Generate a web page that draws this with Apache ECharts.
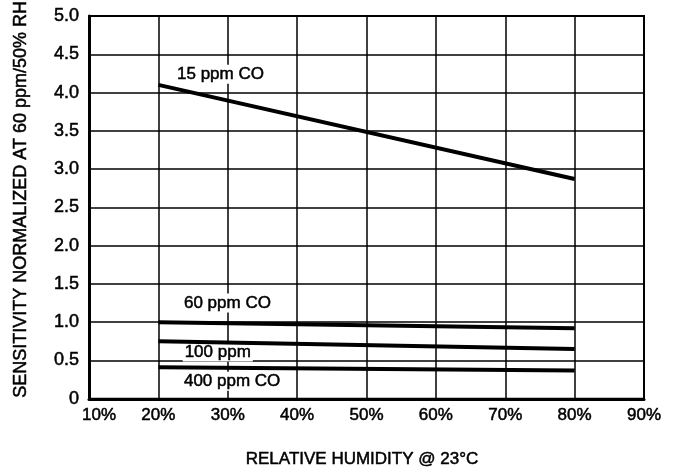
<!DOCTYPE html>
<html>
<head>
<meta charset="utf-8">
<script src="https://cdn.jsdelivr.net/npm/echarts@6/dist/echarts.min.js"></script>
<style>html,body{margin:0;padding:0;background:#fff}#c{width:676px;height:473px}</style>
</head>
<body>
<div id="c"></div>
<script>
// Data
const humidityEnds = [20, 80];            // % RH at line ends
const ppm15 = [4.10, 2.87];
const ppm60 = [1.00, 0.92];
const ppm100 = [0.75, 0.65];
const ppm400 = [0.41, 0.37];
const seriesNames = ['15 ppm CO', '60 ppm CO', '100 ppm', '400 ppm CO'];
// label anchors (data coords: %RH, sensitivity)
const labelX = [22.4, 23.4, 23.5, 23.4];
const labelY = [4.24, 1.25, 0.61, 0.23];
const xTickLabels = ['10%', '20%', '30%', '40%', '50%', '60%', '70%', '80%', '90%'];
const yTickLabels = ['0', '0.5', '1.0', '1.5', '2.0', '2.5', '3.0', '3.5', '4.0', '4.5', '5.0'];

const font = 'Liberation Sans, Arial, Helvetica, sans-serif';
const allY = [ppm15, ppm60, ppm100, ppm400];
const thick = { textBorderColor: '#000', textBorderWidth: 0.5 };

const series = allY.map((vals, i) => ({
  name: seriesNames[i],
  type: 'line',
  data: humidityEnds.map((x, j) => [x, vals[j]]),
  showSymbol: false,
  symbol: 'none',
  lineStyle: { color: '#000', width: 4, cap: 'butt' },
  z: 5,
  markPoint: {
    symbol: 'circle',
    symbolSize: 0,
    data: [{ coord: [labelX[i], labelY[i]] }],
    label: Object.assign({
      show: true,
      position: 'right',
      distance: 0,
      formatter: seriesNames[i],
      color: '#000',
      fontFamily: font,
      fontSize: 17,
      backgroundColor: '#fff',
      padding: [1, 2, 1, 2]
    }, thick),
    z: 3
  }
}));

const chart = echarts.init(document.getElementById('c'), null, { renderer: 'canvas' });
chart.setOption({
  backgroundColor: '#fff',
  animation: false,
  grid: {
    left: 89, right: 32, top: 16, bottom: 69,
    show: true, borderColor: '#000', borderWidth: 2, backgroundColor: 'transparent'
  },
  xAxis: {
    type: 'value',
    min: 10, max: 90, interval: 10,
    name: 'RELATIVE HUMIDITY @ 23°C',
    nameLocation: 'middle',
    nameGap: 52,
    nameTextStyle: Object.assign({ color: '#000', fontFamily: font, fontSize: 17, padding: [0, 9, 0, 0] }, thick),
    axisLine: { show: true, onZero: false, lineStyle: { color: '#000', width: 3 } },
    axisTick: { show: false },
    splitLine: { show: true, lineStyle: { color: '#000', width: 1.5 } },
    axisLabel: Object.assign({
      color: '#000', fontFamily: font, fontSize: 17, margin: 8,
      formatter: (v) => {
        const idx = Math.round((v - 10) / 10);
        const t = xTickLabels[idx];
        return idx === 0 ? '{f|' + t + '}' : t;
      },
      rich: { f: Object.assign({ padding: [0, 0, 0, 20], fontSize: 17, fontFamily: font, color: '#000' }, thick) }
    }, thick)
  },
  yAxis: {
    type: 'value',
    min: 0, max: 5, interval: 0.5,
    name: 'SENSITIVITY NORMALIZED AT 60 ppm/50% RH',
    nameLocation: 'middle',
    nameGap: 59,
    nameTextStyle: Object.assign({ color: '#000', fontFamily: font, fontSize: 18, padding: [0, 0, 0, 16] }, thick),
    axisLine: { show: true, onZero: false, lineStyle: { color: '#000', width: 3 } },
    axisTick: { show: false },
    splitLine: { show: true, lineStyle: { color: '#000', width: 1.5 } },
    axisLabel: Object.assign({
      color: '#000', fontFamily: font, fontSize: 18, margin: 10,
      formatter: (v) => yTickLabels[Math.round(v / 0.5)]
    }, thick)
  },
  series: series
});
</script>
</body>
</html>
